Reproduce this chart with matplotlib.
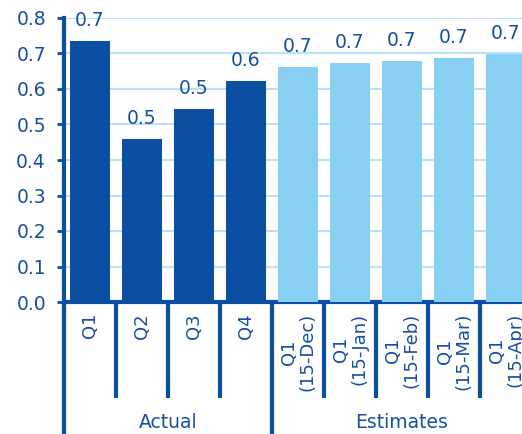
import matplotlib
matplotlib.use("Agg")
import matplotlib.pyplot as plt

categories = ["Q1", "Q2", "Q3", "Q4", "Q1\n(15-Dec)", "Q1\n(15-Jan)", "Q1\n(15-Feb)", "Q1\n(15-Mar)", "Q1\n(15-Apr)"]
values = [0.735, 0.459, 0.544, 0.623, 0.662, 0.673, 0.679, 0.687, 0.699]
groups = ["Actual", "Actual", "Actual", "Actual", "Estimates", "Estimates", "Estimates", "Estimates", "Estimates"]
group_names = ["Actual", "Estimates"]
yticks = [0.0, 0.1, 0.2, 0.3, 0.4, 0.5, 0.6, 0.7, 0.8]

dark = "#0b4fa3"
light = "#88d0f1"
grid = "#b8e3f6"
txt = "#164f9e"

plt.rcParams['font.family'] = ['DejaVu Sans']

fig = plt.figure(figsize=(5.22, 4.34), dpi=100)
W, H = 522, 434
left, right, bottom, top = 64, 532, 302, 18
ax = fig.add_axes([left / W, (H - bottom) / H, (right - left) / W, (bottom - top) / H])

x = list(range(len(categories)))
colors = [dark if g == "Actual" else light for g in groups]
ax.bar(x, values, width=0.77, color=colors, zorder=3)

for xi, v in zip(x, values):
    ax.annotate(f"{v:.1f}", (xi, v), xytext=(0, 8), textcoords="offset points",
                ha="center", va="bottom", fontsize=13.5, color=txt, clip_on=False)

ax.set_xlim(-0.5, len(categories) - 0.5)
ax.set_ylim(0, 0.8)
ax.set_yticks(yticks)
ax.set_yticklabels([f"{t:.1f}" for t in yticks])
ax.yaxis.grid(True, color=grid, linewidth=1.5, zorder=0)
ax.set_axisbelow(True)

for s in ["top", "right"]:
    ax.spines[s].set_visible(False)
ax.spines["left"].set_color(dark)
ax.spines["left"].set_linewidth(3)
ax.spines["bottom"].set_color(dark)
ax.spines["bottom"].set_linewidth(3)
ax.tick_params(axis="y", colors=dark, labelcolor=txt, labelsize=13.5, length=5, width=2, pad=8)
ax.tick_params(axis="x", length=0, labelbottom=False)

trans = ax.get_xaxis_transform()
ax_h = bottom - top
inner_y = -(398 - bottom) / ax_h
outer_y = -(H + 5 - bottom) / ax_h

for xi, lab in zip(x, categories):
    ax.text(xi, -(313 - bottom) / ax_h, lab, rotation=90, ha="center", va="top",
            multialignment="center", fontsize=13, color=txt, transform=trans,
            linespacing=1.0)

# separators
for i in range(len(categories) + 1):
    b = i - 0.5
    is_outer = (i == 0) or (i == len(categories)) or (groups[i - 1] != groups[i] if 0 < i < len(categories) else False)
    ax.plot([b, b], [0, outer_y if is_outer else inner_y], transform=trans,
            color=dark, linewidth=3, clip_on=False, solid_capstyle="butt")

for g in group_names:
    idx = [i for i, gg in enumerate(groups) if gg == g]
    cx = (idx[0] + idx[-1]) / 2
    if g == "Estimates":
        cx = (idx[0] - 0.5 + idx[-1] + 0.5) / 2
    ax.text(cx, -(422 - bottom) / ax_h, g, ha="center", va="center", fontsize=13.5,
            color=txt, transform=trans)

fig.savefig("out.png", dpi=100)
